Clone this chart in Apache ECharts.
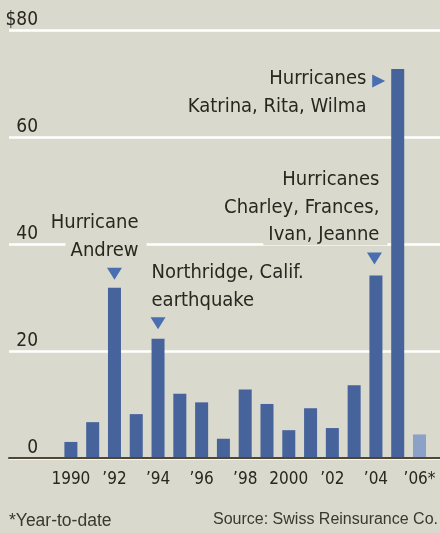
<!DOCTYPE html>
<html>
<head>
<meta charset="utf-8">
<script src="https://cdn.jsdelivr.net/npm/echarts@6/dist/echarts.min.js"></script>
<style>
  html, body { margin: 0; padding: 0; background: #d9d9cd; }
  #chart { width: 440px; height: 533px; }
</style>
</head>
<body>
<div id="chart"></div>
<script>
// Insured catastrophe losses by year, billions of dollars
const years = ['1990', '1991', '1992', '1993', '1994', '1995', '1996', '1997', '1998',
  '1999', '2000', '2001', '2002', '2003', '2004', '2005', '2006'];
const xTickLabels = ['1990', '', '\u201992', '', '\u201994', '', '\u201996', '', '\u201998',
  '', '2000', '', '\u201902', '', '\u201904', '', '\u201906*'];
const losses = [3.0, 6.7, 31.8, 8.2, 22.3, 12.0, 10.4, 3.6, 12.8,
  10.1, 5.2, 9.3, 5.6, 13.6, 34.1, 72.7, 4.4];
const partialYear = '2006';

const yTicks = [0, 20, 40, 60, 80];
const yTickLabels = ['0', '20', '40', '60', '$80'];

const annotationYears = ['1992', '1994', '2004', '2005'];
const annotationLines = [
  ['Hurricane', 'Andrew'],
  ['Northridge, Calif.', 'earthquake'],
  ['Hurricanes', 'Charley, Frances,', 'Ivan, Jeanne'],
  ['Hurricanes', 'Katrina, Rita, Wilma']
];

const footnote = '*Year-to-date';
const sourceNote = 'Source: Swiss Reinsurance Co.';

// ---- styling ----
const BG = '#d9d9cd';
const BAR = '#46639b';
const BAR_PARTIAL = '#8ba1c7';
const POINTER = '#4a6fb0';
const INK = '#2a2620';
const NARROW = "'Liberation Sans Narrow', 'DejaVu Sans Condensed', 'Arial Narrow', sans-serif";
const PLAIN = "'Liberation Sans', Arial, sans-serif";

// placement of each callout relative to the top of its bar
const calloutLayout = {
  '1992': { pointer: 'down',  pointerOffset: [0, -14],    align: 'right', textOffset: [32, -51],   mask: true },
  '1994': { pointer: 'down',  pointerOffset: [0, -15.5],  align: 'left',  textOffset: [-6.5, -52], mask: false },
  '2004': { pointer: 'down',  pointerOffset: [-1.5, -17], align: 'right', textOffset: [11.5, -68], mask: true },
  '2005': { pointer: 'right', pointerOffset: [-19, 12],   align: 'right', textOffset: [-31.3, 24], mask: false }
};

const calloutRich = (align) => ({
  m: { fontFamily: NARROW, fontSize: 20, color: INK, lineHeight: 27.7, align: align,
       backgroundColor: BG, padding: [0, 8, 0, 5] },
  n: { fontFamily: NARROW, fontSize: 20, color: INK, lineHeight: 27.7, align: align }
});

const markData = [];
annotationYears.forEach((yr, i) => {
  const value = losses[years.indexOf(yr)];
  const lay = calloutLayout[yr];
  markData.push({
    coord: [yr, value],
    symbol: 'triangle',
    symbolSize: lay.pointer === 'down' ? [15, 12] : [13, 13],
    symbolRotate: lay.pointer === 'down' ? 180 : -90,
    symbolOffset: lay.pointerOffset,
    itemStyle: { color: POINTER },
    label: { show: false }
  });
  const style = lay.mask ? 'm' : 'n';
  const text = annotationLines[i].map(l => '{' + style + '|' + l + '}').join('\n');
  markData.push({
    coord: [yr, value],
    symbol: 'rect',
    symbolSize: 1,
    itemStyle: { color: 'rgba(0,0,0,0)' },
    label: {
      show: true,
      position: 'inside',
      offset: lay.textOffset,
      align: lay.align,
      verticalAlign: 'middle',
      formatter: () => text,
      rich: calloutRich(lay.align)
    }
  });
});

const chart = echarts.init(document.getElementById('chart'), null, { renderer: 'canvas' });

chart.setOption({
  backgroundColor: BG,
  animation: false,
  grid: [
    { left: 9, right: 0, top: 30, bottom: 75, outerBoundsMode: 'none' },
    { left: 60, right: 9.6, top: 30, bottom: 75, outerBoundsMode: 'none' }
  ],
  xAxis: [
    {
      gridIndex: 0, type: 'value', min: 0, max: 1, z: 5,
      axisLine: { show: true, onZero: false, lineStyle: { color: '#4f4634', width: 2 } },
      axisTick: { show: false }, axisLabel: { show: false }, splitLine: { show: false }
    },
    {
      gridIndex: 1, type: 'category', data: years,
      axisLine: { show: false }, axisTick: { show: false }, splitLine: { show: false },
      axisLabel: {
        interval: 0, margin: 13, fontSize: 17, fontFamily: NARROW, color: INK,
        formatter: (v, i) => xTickLabels[i]
      }
    }
  ],
  yAxis: [
    {
      gridIndex: 0, type: 'value', min: 0, max: 80, interval: 20,
      axisLine: { show: false }, axisTick: { show: false },
      splitLine: { show: true, lineStyle: { color: '#ffffff', width: 2.5 } },
      axisLabel: {
        inside: true, margin: 29, align: 'right', verticalAlign: 'bottom',
        lineHeight: 20, fontSize: 19, fontFamily: NARROW, color: INK,
        formatter: v => yTickLabels[yTicks.indexOf(v)]
      }
    },
    { gridIndex: 1, type: 'value', min: 0, max: 80, interval: 20, show: false }
  ],
  series: [
    {
      type: 'bar',
      xAxisIndex: 1, yAxisIndex: 1,
      barWidth: 13,
      itemStyle: { color: BAR },
      data: losses.map((v, i) => years[i] === partialYear
        ? { value: v, itemStyle: { color: BAR_PARTIAL } } : v),
      markPoint: { silent: true, animation: false, data: markData }
    }
  ],
  graphic: [
    { type: 'text', left: 9, top: 512,
      style: { text: footnote, font: '17.5px ' + PLAIN, fill: '#3b3731' } },
    { type: 'text', right: 2, top: 512,
      style: { text: sourceNote, font: '16px ' + PLAIN, fill: '#3b3731' } }
  ]
});
</script>
</body>
</html>
